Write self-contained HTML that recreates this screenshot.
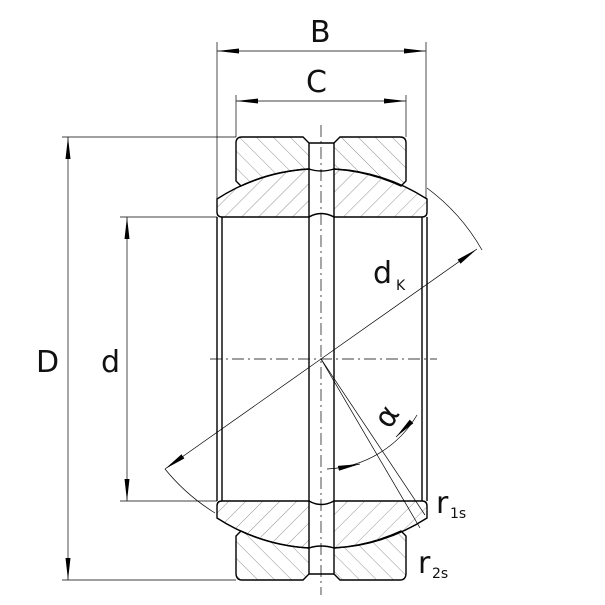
<!DOCTYPE html>
<html><head><style>body{margin:0;background:#fff}svg{display:block}text{font-family:"DejaVu Sans","Liberation Sans",sans-serif;fill:#111}</style></head><body>
<svg width="605" height="605" viewBox="0 0 605 605" xmlns="http://www.w3.org/2000/svg">
<defs>
<pattern id="hA" patternUnits="userSpaceOnUse" width="12" height="12" patternTransform="rotate(45)"><line x1="0" y1="0" x2="0" y2="12" stroke="#777" stroke-width="0.8"/></pattern>
<pattern id="hB" patternUnits="userSpaceOnUse" width="12" height="12" patternTransform="rotate(-45)"><line x1="0" y1="0" x2="0" y2="12" stroke="#777" stroke-width="0.8"/></pattern>
<marker id="ar" markerWidth="22" markerHeight="8" refX="22" refY="4" orient="auto" markerUnits="userSpaceOnUse"><path d="M0,1.5 L22,4 L0,6.5 Z" fill="#000"/></marker>
</defs>
<g stroke="#000" stroke-width="1.4" fill="none">
<!-- outer ring top -->
<path d="M236,143 Q236,137 242,137 L303,137 L309,143 L309,169 A190,190 0 0 0 241,186 L236,181 Z" fill="url(#hB)"/>
<path d="M334,143 L340,137 L400,137 Q406,137 406,143 L406,181 L401,186 A190,190 0 0 0 334,169 Z" fill="url(#hB)"/>
<line x1="309" y1="143" x2="334" y2="143"/>
<!-- inner ring top -->
<path d="M217,199 A190,190 0 0 1 309,169 L309,217 L222,217 Q217,217 217,212 Z" fill="url(#hA)"/>
<path d="M334,169 A190,190 0 0 1 427,199 L427,212 Q427,217 422,217 L334,217 Z" fill="url(#hA)"/>
<path d="M309,169 Q321,173 334,169"/>
<path d="M309,217 Q321,210 334,217"/>
<!-- outer ring bottom -->
<path d="M236,573 Q236,580 242,580 L303,580 L309,574 L309,548 A190,190 0 0 1 241,531 L236,536 Z" fill="url(#hB)"/>
<path d="M334,574 L340,580 L400,580 Q406,580 406,573 L406,536 L401,531 A190,190 0 0 1 334,548 Z" fill="url(#hB)"/>
<line x1="309" y1="574" x2="334" y2="574"/>
<!-- inner ring bottom -->
<path d="M217,518 A190,190 0 0 0 309,548 L309,501 L222,501 Q217,501 217,506 Z" fill="url(#hA)"/>
<path d="M334,548 A190,190 0 0 0 427,518 L427,506 Q427,501 422,501 L334,501 Z" fill="url(#hA)"/>
<path d="M309,548 Q321,544 334,548"/>
<path d="M309,501 Q321,508 334,501"/>
<!-- bore -->
<line x1="217" y1="217" x2="217" y2="501"/><line x1="222" y1="217" x2="222" y2="501"/>
<line x1="427" y1="217" x2="427" y2="501"/><line x1="422" y1="217" x2="422" y2="501"/>
<line x1="309" y1="217" x2="309" y2="501"/><line x1="334" y1="217" x2="334" y2="501"/>
</g>
<g stroke="#000" stroke-width="0.7" fill="none">
<line x1="321" y1="125" x2="321" y2="595" stroke-dasharray="12,4,2,4"/>
<line x1="210" y1="359" x2="437" y2="359" stroke-dasharray="12,4,2,4"/>
<line x1="217" y1="42" x2="217" y2="199"/><line x1="426" y1="42" x2="426" y2="199"/>
<line x1="236" y1="95" x2="236" y2="137"/><line x1="406" y1="95" x2="406" y2="137"/>
<line x1="62" y1="137" x2="236" y2="137"/><line x1="62" y1="580" x2="236" y2="580"/>
<line x1="120" y1="217" x2="217" y2="217"/><line x1="120" y1="501" x2="217" y2="501"/>
<line x1="240" y1="51" x2="217" y2="51" marker-end="url(#ar)"/><line x1="240" y1="51" x2="426" y2="51" marker-end="url(#ar)"/>
<line x1="260" y1="101" x2="236" y2="101" marker-end="url(#ar)"/><line x1="260" y1="101" x2="406" y2="101" marker-end="url(#ar)"/>
<line x1="68" y1="300" x2="68" y2="137" marker-end="url(#ar)"/><line x1="68" y1="300" x2="68" y2="580" marker-end="url(#ar)"/>
<line x1="127" y1="300" x2="127" y2="217" marker-end="url(#ar)"/><line x1="127" y1="300" x2="127" y2="501" marker-end="url(#ar)"/>
<line x1="321" y1="359" x2="477" y2="249" marker-end="url(#ar)"/><line x1="321" y1="359" x2="165" y2="469" marker-end="url(#ar)"/>
<path d="M427,188 A200,200 0 0 1 482,250"/>
<path d="M165,469 A200,200 0 0 0 215,513"/>
<line x1="321" y1="359" x2="420" y2="528"/><line x1="321" y1="359" x2="425" y2="515"/>
<path d="M327,469 A110,110 0 0 0 417,415"/>
<path d="M340,468 L360,464" marker-end="url(#ar)"/>
<path d="M410,423 L396,437" marker-end="url(#ar)"/>
</g>
<text x="310" y="42" font-size="30">B</text>
<text x="306" y="92" font-size="30">C</text>
<text x="36" y="372" font-size="30">D</text>
<text x="101" y="372" font-size="30">d</text>
<text x="373" y="283" font-size="30">d</text><text x="396" y="290" font-size="14">K</text>
<text x="0" y="0" font-size="30" transform="translate(390,430) rotate(-58)">α</text>
<text x="436" y="513" font-size="30">r</text><text x="450" y="518" font-size="14">1s</text>
<text x="418" y="573" font-size="30">r</text><text x="432" y="578" font-size="14">2s</text>
</svg>
</body></html>
